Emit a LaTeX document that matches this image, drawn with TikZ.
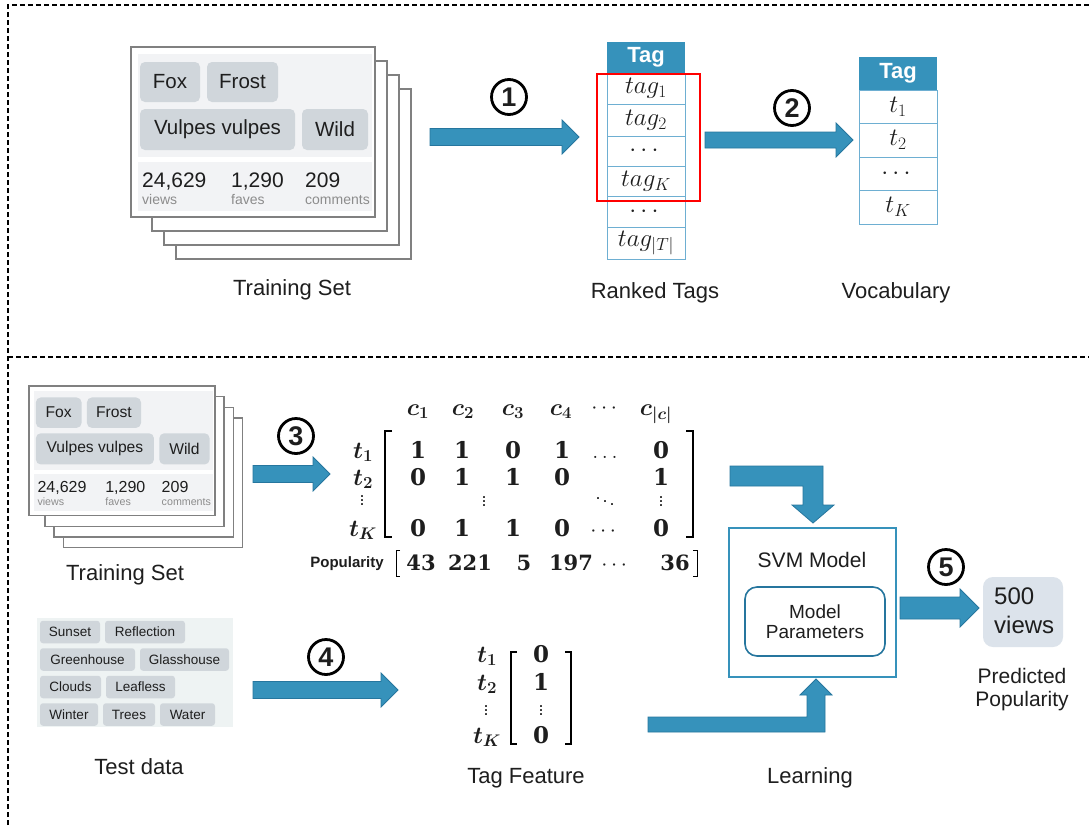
\RequirePackage{fix-cm}
\documentclass[tikz,border=0pt]{standalone}
\usepackage{amsmath}
\usepackage{fontspec}
\setmainfont{Liberation Sans}
\newfontfamily\numfont{DejaVu Serif}
\usetikzlibrary{calc}
\definecolor{blu}{RGB}{54,146,187}
\definecolor{bluedge}{RGB}{38,118,158}
\definecolor{rowline}{RGB}{110,175,210}
\definecolor{tagfill}{RGB}{208,214,219}
\definecolor{panelc}{RGB}{242,243,245}
\definecolor{cloudbg}{RGB}{238,243,243}
\definecolor{predfill}{RGB}{220,227,235}
\definecolor{cardedge}{RGB}{128,128,128}
\definecolor{txt}{RGB}{30,30,30}
\definecolor{subtxt}{RGB}{140,140,140}
\newcommand\fs[1]{\fontsize{#1}{#1}\selectfont}
\newcommand\hblk[4]{%
  \draw[blk] ($(#1)+(0,-#3)$) -- ($(#2)+(-#4,-#3)$) -- ($(#2)+(-#4,-#4)$) -- (#2)
    -- ($(#2)+(-#4,#4)$) -- ($(#2)+(-#4,#3)$) -- ($(#1)+(0,#3)$) -- cycle;}
\newcommand\flickrcard[1]{%
  \draw[card] (45,42) rectangle (280,212);
  \draw[card] (33,28) rectangle (268,198);
  \draw[card] (21,14) rectangle (256,184);
  \draw[card] (0,0) rectangle (244,170);
  \fill[panelc] (7,7) rectangle (241,110);
  \fill[panelc] (7,115) rectangle (241,164);
  \node[tagbox, minimum width=60pt, minimum height=40pt] (#1fox) at (39,35) {Fox};
  \node[tagbox, minimum width=71pt, minimum height=40pt] (#1frost) at (111.5,35) {Frost};
  \node[tagbox, minimum width=155pt, minimum height=41pt] (#1vul) at (86.5,82.5) {Vulpes vulpes};
  \node[tagbox, minimum width=66pt, minimum height=41pt] (#1wild) at (204,82.5) {Wild};
  \node[num] (#1n1) at (11,140) {24,629};
  \node[num] (#1n2) at (100,140) {1,290};
  \node[num] (#1n3) at (174,140) {209};
  \node[sub] (#1s1) at (11,157) {views};
  \node[sub] (#1s2) at (100,157) {faves};
  \node[sub] (#1s3) at (174,157) {comments};
}
\begin{document}
\begin{tikzpicture}[x=1pt,y=-1pt,
  every node/.style={text=txt},
  blk/.style={fill=blu, draw=bluedge, line width=0.8pt, line join=miter},
  card/.style={draw=cardedge, fill=white, line width=1.3pt},
  tagbox/.style={fill=tagfill, rounded corners=5pt, inner sep=0pt, font=\fs{20.5}},
  num/.style={anchor=base west, inner sep=0pt, font=\fs{21}},
  sub/.style={anchor=base west, inner sep=0pt, font=\fs{14}, text=subtxt},
  ctag/.style={fill=tagfill, rounded corners=3pt, inner sep=0pt, minimum height=22.5pt, font=\fs{13.5}},
  circnum/.style={circle, draw=black, line width=2.8pt, minimum size=35pt, inner sep=0pt, font=\fs{27}\bfseries},
  hdr/.style={fill=blu, minimum width=78pt, inner sep=0pt, text=white, font=\fs{22}\bfseries},
  trow/.style={draw=rowline, line width=1pt, fill=white, minimum width=78pt, inner sep=0pt, font=\fs{25}},
  lbl/.style={font=\fs{22}, inner sep=0pt},
  mtx/.style={font=\fs{23}\numfont\bfseries, inner sep=0pt, anchor=base},
  ptx/.style={font=\fs{21}\numfont\bfseries, inner sep=0pt, anchor=base},
  mdots/.style={font=\fs{22}, inner sep=0pt, anchor=base},
  vdt/.style={font=\fs{18}, inner sep=0pt, anchor=base},
  rlab/.style={font=\fs{24}\boldmath, inner sep=0pt, anchor=base},
  dashline/.style={dash pattern=on 5pt off 3pt, line width=1.3pt},
]
\useasboundingbox (0,0) rectangle (1089,825);
\fill[white] (0,0) rectangle (1089,825);

% section frames
\draw[dashline] (8,825) -- (8,5) -- (1089,5);
\draw[dashline] (8,357) -- (1089,357);

% ---------- top: training set ----------
\begin{scope}[shift={(131,47)}]
  \flickrcard{a}
\end{scope}
\node[lbl] (trainA) at (292,290) {Training Set};

% arrow 1
\coordinate (a1s) at (430,137);
\coordinate (a1t) at (579,137);
\hblk{a1s}{a1t}{8.5}{17}
\node[circnum] (c1) at (509,97) {1};

% ranked tags table
\node[hdr, minimum height=31pt] (rh) at (646,57.5) {Tag};
\node[trow, minimum height=31pt] (r1) at (646,88.5) {$tag_1$};
\node[trow, minimum height=32pt] (r2) at (646,120) {$tag_2$};
\node[trow, minimum height=30pt] (r3) at (646,151) {$\cdots$};
\node[trow, minimum height=30pt] (r4) at (646,181) {$tag_K$};
\node[trow, minimum height=31pt] (r5) at (646,211.5) {$\cdots$};
\node[trow, minimum height=32pt] (r6) at (646,243) {$tag_{|T|}$};
\draw[red, line width=2.8pt] (597,74) rectangle (700,201);
\node[lbl] (rankedlbl) at (655,293) {Ranked Tags};

% arrow 2
\coordinate (a2s) at (705,140);
\coordinate (a2t) at (853,140);
\hblk{a2s}{a2t}{8}{17}
\node[circnum] (c2) at (792,108) {2};

% vocabulary
\node[hdr, minimum height=33pt] (vh) at (898,73.5) {Tag};
\node[trow, minimum height=33pt] (v1) at (898,106.5) {$t_1$};
\node[trow, minimum height=34pt] (v2) at (898,140) {$t_2$};
\node[trow, minimum height=33pt] (v3) at (898,173.5) {$\cdots$};
\node[trow, minimum height=34pt] (v4) at (898,207) {$t_K$};
\node[lbl] (voclbl) at (896,293) {Vocabulary};

% ---------- bottom: training set ----------
\begin{scope}[shift={(29,386)}, scale=0.762, transform shape]
  \flickrcard{b}
\end{scope}
\node[lbl] (trainB) at (125,575) {Training Set};

% arrow 3
\coordinate (a3s) at (253,474);
\coordinate (a3t) at (330,474);
\hblk{a3s}{a3t}{8.5}{17}
\node[circnum] (c3) at (296,436) {3};

% matrix
\foreach \x/\v [count=\i] in {418/c_1,463/c_2,513/c_3,561/c_4,656/c_{|c|}}
  \node[rlab] (ch\i) at (\x,415) {$\v$};
\node[mdots] (ch6) at (606,413) {$\cdots$};
\node[rlab] (t1) at (363,458) {$t_1$};
\node[rlab] (t2) at (363,485) {$t_2$};
\node[vdt] (t3) at (362,505) {\smash{$\vdots$}};
\node[rlab] (tK) at (363,536) {$t_K$};
\draw[line width=1.8pt] (392,431) -- (385,431) -- (385,537) -- (392,537);
\draw[line width=1.8pt] (686,431) -- (693,431) -- (693,537) -- (686,537);
\foreach \x/\v [count=\i] in {418/1,462/1,513/0,562/1,661/0}
  \node[mtx] (ma\i) at (\x,458) {\v};
\node[mdots] (ma6) at (605,458) {$\ldots$};
\foreach \x/\v [count=\i] in {418/0,462/1,513/1,562/0,661/1}
  \node[mtx] (mb\i) at (\x,485) {\v};
\node[vdt] (mc1) at (484,506) {\smash{$\vdots$}};
\node[vdt] (mc2) at (605,506) {\smash{$\ddots$}};
\node[vdt] (mc3) at (661,506) {\smash{$\vdots$}};
\foreach \x/\v [count=\i] in {418/0,462/1,513/1,562/0,661/0}
  \node[mtx] (md\i) at (\x,536) {\v};
\node[mdots] (md6) at (605,536) {$\cdots$};
% popularity
\node[font=\fs{15}\bfseries, inner sep=0pt, anchor=base] (poplbl) at (347,567) {Popularity};
\draw[line width=1pt] (400,550) -- (396,550) -- (396,576) -- (400,576);
\draw[line width=1pt] (693,550) -- (697,550) -- (697,576) -- (693,576);
\foreach \x/\v [count=\i] in {421/43,470/221,524/5,571/197,675/36}
  \node[ptx] (p\i) at (\x,570) {\v};
\node[mdots] (p6) at (616,570) {$\cdots$};

% elbow arrow matrix -> SVM
\coordinate (e1s) at (730,476);
\coordinate (e1t) at (813,523);
\draw[blk] (730,466) -- (823,466) -- (823,505) -- (834,505) -- (e1t) -- (792,505) -- (803,505) -- (803,486) -- (730,486) -- cycle;

% test data
\fill[cloudbg] (37,618) rectangle (233,727);
\node[ctag, minimum width=60pt] (tg1) at (70,632) {Sunset};
\node[ctag, minimum width=80pt] (tg2) at (145,632) {Reflection};
\node[ctag, minimum width=95pt] (tg3) at (87.5,659.5) {Greenhouse};
\node[ctag, minimum width=89pt] (tg4) at (184.5,659.5) {Glasshouse};
\node[ctag, minimum width=61pt] (tg5) at (70.5,687) {Clouds};
\node[ctag, minimum width=69pt] (tg6) at (140.5,687) {Leafless};
\node[ctag, minimum width=58pt] (tg7) at (69,714.5) {Winter};
\node[ctag, minimum width=52pt] (tg8) at (129,714.5) {Trees};
\node[ctag, minimum width=55pt] (tg9) at (187.5,714.5) {Water};
\node[lbl] (testlbl) at (139,767) {Test data};

% arrow 4
\coordinate (a4s) at (253,690);
\coordinate (a4t) at (398,690);
\hblk{a4s}{a4t}{8.5}{17}
\node[circnum] (c4) at (326,657) {4};

% tag feature
\node[rlab] (f1) at (487,662) {$t_1$};
\node[rlab] (f2) at (487,690) {$t_2$};
\node[vdt] (f3) at (486,715) {\smash{$\vdots$}};
\node[rlab] (fK) at (487,743) {$t_K$};
\draw[line width=1.8pt] (517,652) -- (511,652) -- (511,744) -- (517,744);
\draw[line width=1.8pt] (565,652) -- (571,652) -- (571,744) -- (565,744);
\node[mtx] (fv1) at (541,662) {0};
\node[mtx] (fv2) at (541,690) {1};
\node[vdt] (fv3) at (541,715) {\smash{$\vdots$}};
\node[mtx] (fv4) at (541,743) {0};
\node[lbl] (featlbl) at (526,778) {Tag Feature};

% elbow arrow feature -> SVM
\coordinate (e2t) at (816,679);
\draw[blk] (648,717) -- (807,717) -- (807,695) -- (800,695) -- (e2t) -- (832,695) -- (825,695) -- (825,732) -- (648,732) -- cycle;

% SVM model
\node[draw=blu, line width=2pt, minimum width=167pt, minimum height=149pt, inner sep=0pt] (svm) at (812.5,602.5) {};
\node[font=\fs{21}, inner sep=0pt] (svmlbl) at (812,560) {SVM Model};
\node[draw=bluedge, line width=1.6pt, rounded corners=12pt, minimum width=140pt, minimum height=69pt, align=center, font=\fs{19}, inner sep=0pt] (params) at (815,621.5) {Model\\[1pt]Parameters};
\node[lbl] (learnlbl) at (810,778) {Learning};

% arrow 5
\coordinate (a5s) at (900,608);
\coordinate (a5t) at (979,608);
\hblk{a5s}{a5t}{11}{19}
\node[circnum] (c5) at (946,567) {5};

% prediction
\node[fill=predfill, rounded corners=10pt, minimum width=80pt, minimum height=70pt, inner sep=0pt] (pred) at (1023,612) {};
\node[anchor=base west, font=\fs{24}, inner sep=0pt] (p500) at (994,604) {500};
\node[anchor=base west, font=\fs{24}, inner sep=0pt] (pviews) at (994,633) {views};
\node[font=\fs{21}, align=center, inner sep=0pt] (predlbl) at (1022,690) {Predicted\\[2pt]Popularity};
\end{tikzpicture}
\end{document}
